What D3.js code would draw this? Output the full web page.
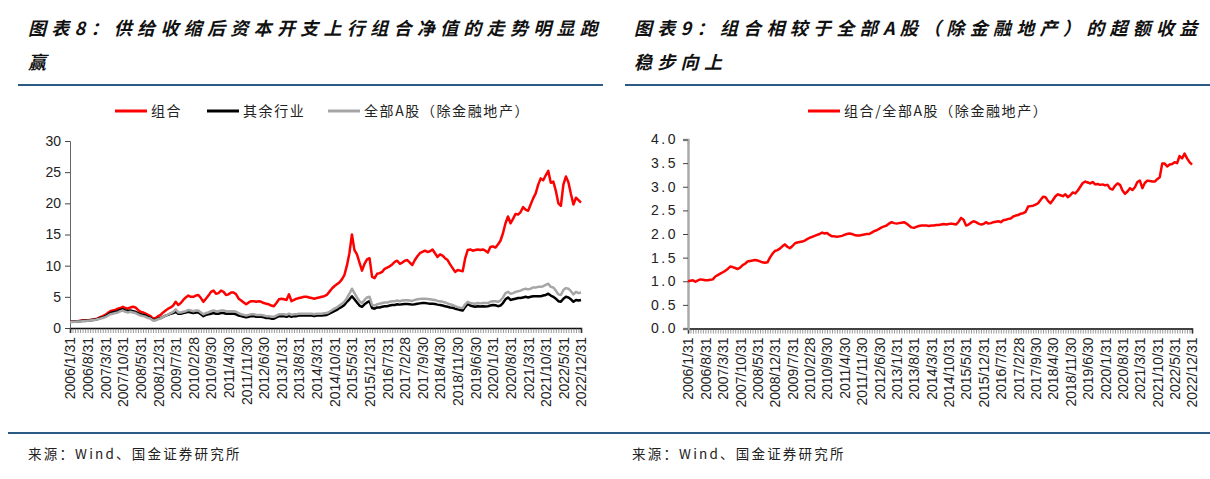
<!DOCTYPE html>
<html><head><meta charset="utf-8">
<script src="https://cdn.jsdelivr.net/npm/d3@7/dist/d3.min.js"></script>
<style>
html,body{margin:0;padding:0;background:#fff;}
svg{display:block;}
</style></head>
<body><svg id="c" width="1210" height="479"></svg>
<script>
// ---- tick labels (every 7th month, 2006/1 .. 2022/12) ----
const tickLabels = ["2006/1/31","2006/8/31","2007/3/31","2007/10/31","2008/5/31","2008/12/31","2009/7/31","2010/2/28","2010/9/30","2011/4/30","2011/11/30","2012/6/30","2013/1/31","2013/8/31","2014/3/31","2014/10/31","2015/5/31","2015/12/31","2016/7/31","2017/2/28","2017/9/30","2018/4/30","2018/11/30","2019/6/30","2020/1/31","2020/8/31","2021/3/31","2021/10/31","2022/5/31","2022/12/31"];
const labelStep = 7;
const leftTicksY = [0,5,10,15,20,25,30];
const rightTicksY = [0,0.5,1.0,1.5,2.0,2.5,3.0,3.5,4.0];

// ---- series (monthly, 204 points) ----
const zuhe = [
1.0,1.0,1.05,1.1,1.15,1.2,1.2,1.25,1.3,1.35,1.4,1.55,
1.75,1.9,2.1,2.4,2.7,2.8,2.9,3.1,3.2,3.4,3.2,3.1,
3.3,3.4,3.3,2.9,2.6,2.5,2.3,2.1,1.9,1.5,1.6,1.9,
2.1,2.5,2.8,3.1,3.3,3.6,4.2,3.7,4.0,4.5,4.9,5.2,
5.0,5.0,5.2,5.3,4.8,4.2,4.7,5.2,5.8,6.0,5.5,5.6,
6.0,5.8,5.3,5.4,5.7,5.7,5.4,4.7,4.4,4.1,3.8,4.1,
4.3,4.3,4.2,4.3,4.2,4.0,3.9,3.8,3.6,3.5,4.0,4.6,
4.7,4.6,4.5,5.4,4.3,4.5,4.7,4.8,4.9,5.0,5.0,4.9,
4.8,4.7,4.8,4.9,5.0,5.1,5.3,5.8,6.3,6.7,7.0,7.3,
7.8,8.5,10.0,12.0,15.0,12.5,11.8,10.5,9.2,10.3,11.0,11.2,
8.2,8.0,8.7,8.8,9.0,9.5,9.7,9.9,10.2,10.6,10.8,10.3,
10.5,10.8,10.9,10.5,10.1,10.9,11.5,12.0,12.2,12.4,12.2,12.3,
12.6,12.0,11.4,11.8,11.6,11.2,10.9,10.2,9.6,9.0,9.3,9.2,
9.1,11.2,12.5,12.6,12.4,12.5,12.6,12.5,12.6,12.4,12.1,13.0,
13.1,12.9,13.4,14.0,15.2,16.8,17.9,16.8,17.5,18.3,18.2,18.6,
19.4,19.0,18.8,19.8,20.8,21.6,23.0,24.0,23.7,24.5,25.2,23.3,
23.5,22.0,20.0,19.6,23.0,24.3,23.4,21.5,19.8,20.9,20.5,20.1];

const qiyu = [
1.0,1.0,1.05,1.1,1.1,1.15,1.15,1.2,1.25,1.3,1.35,1.45,
1.6,1.7,1.85,2.1,2.4,2.5,2.6,2.7,2.9,3.0,2.8,2.7,
2.8,2.7,2.6,2.4,2.2,2.1,2.0,1.8,1.6,1.3,1.3,1.5,
1.6,1.8,2.0,2.1,2.3,2.4,2.6,2.3,2.3,2.4,2.5,2.6,
2.5,2.4,2.5,2.5,2.2,1.9,2.1,2.2,2.3,2.4,2.3,2.3,
2.4,2.4,2.3,2.3,2.3,2.3,2.2,2.0,1.9,1.8,1.7,1.8,
1.9,1.9,1.8,1.8,1.8,1.7,1.6,1.6,1.5,1.5,1.7,1.9,
1.9,1.9,1.8,2.0,1.8,1.9,1.9,2.0,2.0,2.0,2.0,2.0,
2.0,1.9,2.0,2.0,2.0,2.05,2.1,2.3,2.5,2.7,2.9,3.2,
3.4,3.7,4.2,4.6,5.1,4.6,4.1,3.6,3.4,3.8,4.1,4.3,
3.2,3.1,3.3,3.3,3.4,3.5,3.5,3.6,3.7,3.7,3.8,3.75,
3.8,3.85,3.85,3.8,3.75,3.8,3.9,3.95,4.0,4.0,3.95,3.9,
3.9,3.85,3.75,3.7,3.6,3.5,3.4,3.3,3.25,3.1,3.0,2.9,
2.8,3.4,3.85,3.6,3.5,3.4,3.5,3.45,3.5,3.45,3.5,3.6,
3.7,3.65,3.5,3.6,4.0,4.6,4.9,4.5,4.6,4.7,4.8,4.8,
4.9,5.0,4.9,5.0,5.1,5.1,5.1,5.1,5.2,5.3,5.5,5.2,
5.0,4.7,4.3,4.2,4.7,5.0,4.9,4.6,4.2,4.5,4.4,4.5];

const quanA = [
0.95,0.95,1.0,1.05,1.05,1.1,1.1,1.15,1.2,1.25,1.3,1.4,
1.5,1.6,1.75,1.95,2.2,2.3,2.4,2.5,2.7,2.8,2.6,2.5,
2.6,2.5,2.4,2.2,2.0,1.9,1.8,1.6,1.5,1.2,1.25,1.4,
1.55,1.8,2.0,2.2,2.4,2.6,3.0,2.5,2.5,2.6,2.7,2.9,
2.8,2.7,2.8,2.8,2.5,2.2,2.4,2.5,2.7,2.8,2.7,2.7,
2.8,2.8,2.7,2.7,2.7,2.7,2.6,2.4,2.2,2.1,2.0,2.1,
2.2,2.2,2.1,2.1,2.1,2.0,1.9,1.9,1.8,1.8,2.0,2.2,
2.2,2.2,2.1,2.3,2.1,2.2,2.2,2.3,2.3,2.3,2.3,2.3,
2.3,2.2,2.3,2.3,2.3,2.35,2.4,2.6,2.85,3.1,3.3,3.6,
3.9,4.2,4.8,5.5,6.3,5.6,4.9,4.3,4.0,4.5,4.9,5.0,
3.7,3.6,3.8,3.9,4.0,4.1,4.1,4.2,4.3,4.3,4.4,4.3,
4.4,4.45,4.45,4.4,4.35,4.5,4.6,4.65,4.7,4.7,4.65,4.6,
4.55,4.5,4.35,4.3,4.2,4.1,3.95,3.8,3.7,3.5,3.35,3.25,
3.2,3.8,4.2,4.0,3.95,3.9,4.0,3.95,4.0,4.0,4.0,4.2,
4.3,4.3,4.2,4.4,4.9,5.6,5.8,5.5,5.6,5.8,5.9,6.0,
6.2,6.3,6.2,6.3,6.5,6.5,6.6,6.6,6.7,6.9,7.1,6.6,
6.5,6.0,5.4,5.3,6.1,6.4,6.3,5.9,5.4,5.8,5.6,5.7];

const ratio = [
1.00,1.01,1.02,0.99,1.02,1.04,1.03,1.02,1.02,1.03,1.04,1.10,
1.13,1.16,1.19,1.22,1.26,1.31,1.30,1.28,1.26,1.29,1.34,1.37,
1.42,1.43,1.44,1.45,1.44,1.42,1.40,1.39,1.40,1.50,1.58,1.64,
1.66,1.69,1.74,1.78,1.73,1.70,1.74,1.80,1.82,1.83,1.84,1.86,
1.89,1.92,1.94,1.96,1.98,2.00,2.03,2.01,2.02,1.98,1.95,1.95,
1.94,1.95,1.96,1.98,2.00,2.01,2.00,1.98,1.97,1.97,1.98,1.99,
2.00,2.00,2.03,2.06,2.08,2.11,2.14,2.16,2.18,2.22,2.25,2.23,
2.22,2.23,2.24,2.25,2.22,2.18,2.14,2.13,2.15,2.17,2.18,2.18,
2.18,2.17,2.18,2.18,2.19,2.19,2.20,2.21,2.20,2.21,2.22,2.21,
2.20,2.26,2.34,2.30,2.18,2.20,2.24,2.27,2.25,2.22,2.20,2.21,
2.25,2.22,2.23,2.25,2.26,2.27,2.25,2.29,2.30,2.32,2.33,2.37,
2.39,2.40,2.43,2.44,2.47,2.58,2.59,2.60,2.62,2.65,2.72,2.79,
2.78,2.70,2.65,2.72,2.80,2.84,2.82,2.80,2.84,2.78,2.82,2.88,
2.86,2.92,3.00,3.08,3.11,3.09,3.07,3.10,3.05,3.06,3.04,3.05,
3.03,3.04,2.96,2.94,3.02,3.07,3.04,2.92,2.85,2.90,2.97,2.93,
2.99,3.10,3.13,2.97,3.08,3.13,3.12,3.11,3.11,3.16,3.20,3.49,
3.49,3.43,3.47,3.48,3.52,3.50,3.65,3.60,3.70,3.60,3.52,3.47];

const seriesNames = ["组合","其余行业","全部A股（除金融地产）"];
const ratioName = "组合/全部A股（除金融地产）";
const colors = {red:"#FF0000", black:"#000000", gray:"#A6A6A6"};

const svg = d3.select("#c");
svg.append("rect").attr("width",1210).attr("height",479).attr("fill","#fff");

const cjk = "'Noto Sans CJK SC','Noto Sans',sans-serif";
const num = "'Liberation Sans',Arial,sans-serif";

// ---- titles ----
function title(x, lines){
  lines.forEach((t,i)=>{
    svg.append("text").attr("x",x).attr("y",35+i*34)
      .attr("font-family",cjk).attr("font-size",18).attr("font-weight",700)
      .attr("font-style","italic").attr("letter-spacing",5.3).attr("fill","#111")
      .text(t);
  });
}
title(28, ["图表8：供给收缩后资本开支上行组合净值的走势明显跑","赢"]);
title(634, ["图表9：组合相较于全部A股（除金融地产）的超额收益","稳步向上"]);

// rules
[[18,603],[625,1210]].forEach(([a,b])=>{
  svg.append("line").attr("x1",a).attr("x2",b).attr("y1",85).attr("y2",85)
    .attr("stroke","#2b5a84").attr("stroke-width",2);
});
svg.append("line").attr("x1",8).attr("x2",1210).attr("y1",433).attr("y2",433)
  .attr("stroke","#2b5a84").attr("stroke-width",2);

// sources
[[28],[632]].forEach(([x])=>{
  svg.append("text").attr("x",x).attr("y",459).attr("font-family",cjk)
    .attr("font-size",13.5).attr("letter-spacing",2.2).attr("fill","#222")
    .text("来源：Wind、国金证券研究所");
});

function drawChart(cfg){
  const n = cfg.series[0].values.length;
  const x = d3.scaleLinear().domain([0,n-1]).range([cfg.x0,cfg.x1]);
  const y = d3.scaleLinear().domain(cfg.yDomain).range([cfg.yb,cfg.yt]);
  const g = svg.append("g");

  // x axis
  const xa = d3.axisBottom(x).tickValues(d3.range(n)).tickSize(5)
    .tickFormat(i => (i % labelStep === 0) ? tickLabels[i/labelStep] : "");
  const gx = g.append("g").attr("transform",`translate(0,${cfg.yb})`).call(xa);
  gx.select(".domain").attr("stroke","#000").attr("stroke-width",1.5);
  gx.selectAll(".tick line").attr("stroke","#555").attr("stroke-width",0.6);
  gx.selectAll(".tick text").attr("font-family",num).attr("font-size",14).attr("fill","#222")
    .attr("transform","rotate(-90)").attr("text-anchor","end")
    .attr("x",-9).attr("y",0).attr("dy","0.35em");

  // y axis
  const ya = d3.axisLeft(y).tickValues(cfg.yTicks).tickSize(5).tickFormat(cfg.fmt);
  const gy = g.append("g").attr("transform",`translate(${cfg.x0},0)`).call(ya);
  gy.select(".domain").attr("stroke",cfg.yAxisColor).attr("stroke-width",cfg.yAxisW);
  gy.selectAll(".tick line").attr("stroke","#444");
  gy.selectAll(".tick text").attr("font-family",num).attr("font-size",14).attr("fill","#222")
    .attr("x",-cfg.labelGap).attr("letter-spacing",cfg.ls||0);

  // lines
  const line = d3.line().x((d,i)=>x(i)).y(d=>y(d));
  cfg.series.forEach(s=>{
    g.append("path").datum(s.values).attr("d",line).attr("fill","none")
      .attr("stroke",s.color).attr("stroke-width",2.5).attr("stroke-linejoin","round");
  });

  // legend
  cfg.legend.forEach(l=>{
    g.append("line").attr("x1",l.x).attr("x2",l.x+32).attr("y1",111).attr("y2",111)
      .attr("stroke",l.color).attr("stroke-width",3);
    g.append("text").attr("x",l.x+36).attr("y",111).attr("dy","0.35em")
      .attr("font-family",cjk).attr("font-size",14).attr("letter-spacing",1.6)
      .attr("fill","#222").text(l.name);
  });
}

drawChart({
  x0:70, x1:581, yb:328, yt:141, yDomain:[0,30], yTicks:leftTicksY,
  fmt:d3.format("d"), yAxisColor:"#666", yAxisW:1, labelGap:9,
  series:[{values:zuhe,color:colors.red},{values:qiyu,color:colors.black},{values:quanA,color:colors.gray}],
  legend:[{x:115,color:colors.red,name:seriesNames[0]},{x:207,color:colors.black,name:seriesNames[1]},{x:328,color:colors.gray,name:seriesNames[2]}]
});
drawChart({
  x0:688, x1:1192, yb:328.5, yt:139.5, yDomain:[0,4], yTicks:rightTicksY,
  fmt:d3.format(".1f"), yAxisColor:"#aaa", yAxisW:2.5, labelGap:10, ls:2.5,
  series:[{values:ratio,color:colors.red}],
  legend:[{x:808,color:colors.red,name:ratioName}]
});
</script></body></html>
